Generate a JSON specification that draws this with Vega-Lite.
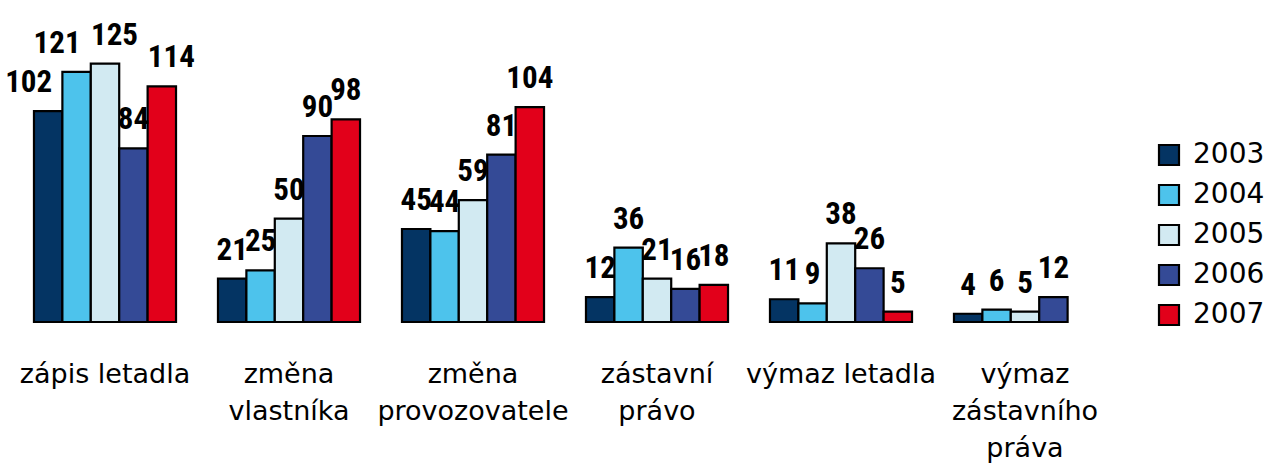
{
  "$schema": "https://vega.github.io/schema/vega-lite/v6.json",
  "autosize": "none",
  "width": 1104,
  "height": 310,
  "padding": {"left": 13, "top": 12, "right": 149, "bottom": 147},
  "background": "white",
  "config": {"view": {"stroke": null}},
  "data": {
    "values": [
      {"cat": "zápis letadla", "year": "2003", "value": 102},
      {"cat": "zápis letadla", "year": "2004", "value": 121},
      {"cat": "zápis letadla", "year": "2005", "value": 125},
      {"cat": "zápis letadla", "year": "2006", "value": 84},
      {"cat": "zápis letadla", "year": "2007", "value": 114},
      {"cat": "změna|vlastníka", "year": "2003", "value": 21},
      {"cat": "změna|vlastníka", "year": "2004", "value": 25},
      {"cat": "změna|vlastníka", "year": "2005", "value": 50},
      {"cat": "změna|vlastníka", "year": "2006", "value": 90},
      {"cat": "změna|vlastníka", "year": "2007", "value": 98},
      {"cat": "změna|provozovatele", "year": "2003", "value": 45},
      {"cat": "změna|provozovatele", "year": "2004", "value": 44},
      {"cat": "změna|provozovatele", "year": "2005", "value": 59},
      {"cat": "změna|provozovatele", "year": "2006", "value": 81},
      {"cat": "změna|provozovatele", "year": "2007", "value": 104},
      {"cat": "zástavní|právo", "year": "2003", "value": 12},
      {"cat": "zástavní|právo", "year": "2004", "value": 36},
      {"cat": "zástavní|právo", "year": "2005", "value": 21},
      {"cat": "zástavní|právo", "year": "2006", "value": 16},
      {"cat": "zástavní|právo", "year": "2007", "value": 18},
      {"cat": "výmaz letadla", "year": "2003", "value": 11},
      {"cat": "výmaz letadla", "year": "2004", "value": 9},
      {"cat": "výmaz letadla", "year": "2005", "value": 38},
      {"cat": "výmaz letadla", "year": "2006", "value": 26},
      {"cat": "výmaz letadla", "year": "2007", "value": 5},
      {"cat": "výmaz|zástavního|práva", "year": "2003", "value": 4},
      {"cat": "výmaz|zástavního|práva", "year": "2004", "value": 6},
      {"cat": "výmaz|zástavního|práva", "year": "2005", "value": 5},
      {"cat": "výmaz|zástavního|práva", "year": "2006", "value": 12}
    ]
  },
  "encoding": {
    "x": {
      "field": "cat",
      "type": "nominal",
      "sort": null,
      "scale": {"paddingInner": 0.228, "paddingOuter": 0.114},
      "axis": {
        "title": null,
        "domain": false,
        "ticks": false,
        "labelAngle": 0,
        "labelExpr": "split(datum.label, '|')",
        "labelFont": "DejaVu Sans",
        "labelFontSize": 27,
        "labelColor": "black",
        "labelPadding": 39,
        "labelBaseline": "top",
        "labelLineHeight": 37,
        "labelLimit": 0
      }
    },
    "xOffset": {"field": "year", "type": "nominal", "scale": {"domain": ["2003", "2004", "2005", "2006", "2007"], "paddingInner": 0, "paddingOuter": 0}},
    "y": {"field": "value", "type": "quantitative", "scale": {"domain": [0, 150], "nice": false}, "axis": null}
  },
  "layer": [
    {
      "mark": {"type": "bar", "stroke": "black", "strokeWidth": 2.2},
      "encoding": {
        "color": {
          "field": "year",
          "type": "nominal",
          "scale": {"domain": ["2003", "2004", "2005", "2006", "2007"], "range": ["#043463", "#4dc3ec", "#d2eaf2", "#344a96", "#e2001a"]},
          "legend": {
            "title": null,
            "orient": "none",
            "legendX": 1142,
            "legendY": 129,
            "symbolType": "square",
            "symbolSize": 400,
            "symbolStrokeColor": "black",
            "symbolStrokeWidth": 2.2,
            "symbolOpacity": 1,
            "labelFont": "DejaVu Sans",
            "labelFontSize": 28,
            "labelColor": "black",
            "labelOffset": 10,
            "rowPadding": 10
          }
        }
      }
    },
    {
      "transform": [{"filter": "datum.cat != 'zápis letadla' || datum.year == '2006'"}],
      "mark": {"type": "text", "font": "Roboto Condensed, Open Sans Condensed, Arial Narrow, Nimbus Sans Narrow, Liberation Sans Narrow, DejaVu Sans Condensed, sans-serif", "fontWeight": "bold", "fontSize": 31, "baseline": "alphabetic", "dy": -19, "color": "black"},
      "encoding": {"text": {"field": "value", "type": "quantitative"}}
    },
    {
      "transform": [{"filter": "datum.cat == 'zápis letadla' && (datum.year == '2003' || datum.year == '2004')"}],
      "mark": {"type": "text", "font": "Roboto Condensed, Open Sans Condensed, Arial Narrow, Nimbus Sans Narrow, Liberation Sans Narrow, DejaVu Sans Condensed, sans-serif", "fontWeight": "bold", "fontSize": 31, "baseline": "alphabetic", "align": "right", "dx": 4, "dy": -19, "color": "black"},
      "encoding": {"text": {"field": "value", "type": "quantitative"}}
    },
    {
      "transform": [{"filter": "datum.cat == 'zápis letadla' && (datum.year == '2005' || datum.year == '2007')"}],
      "mark": {"type": "text", "font": "Roboto Condensed, Open Sans Condensed, Arial Narrow, Nimbus Sans Narrow, Liberation Sans Narrow, DejaVu Sans Condensed, sans-serif", "fontWeight": "bold", "fontSize": 31, "baseline": "alphabetic", "align": "left", "dx": -14, "dy": -19, "color": "black"},
      "encoding": {"text": {"field": "value", "type": "quantitative"}}
    }
  ]
}
